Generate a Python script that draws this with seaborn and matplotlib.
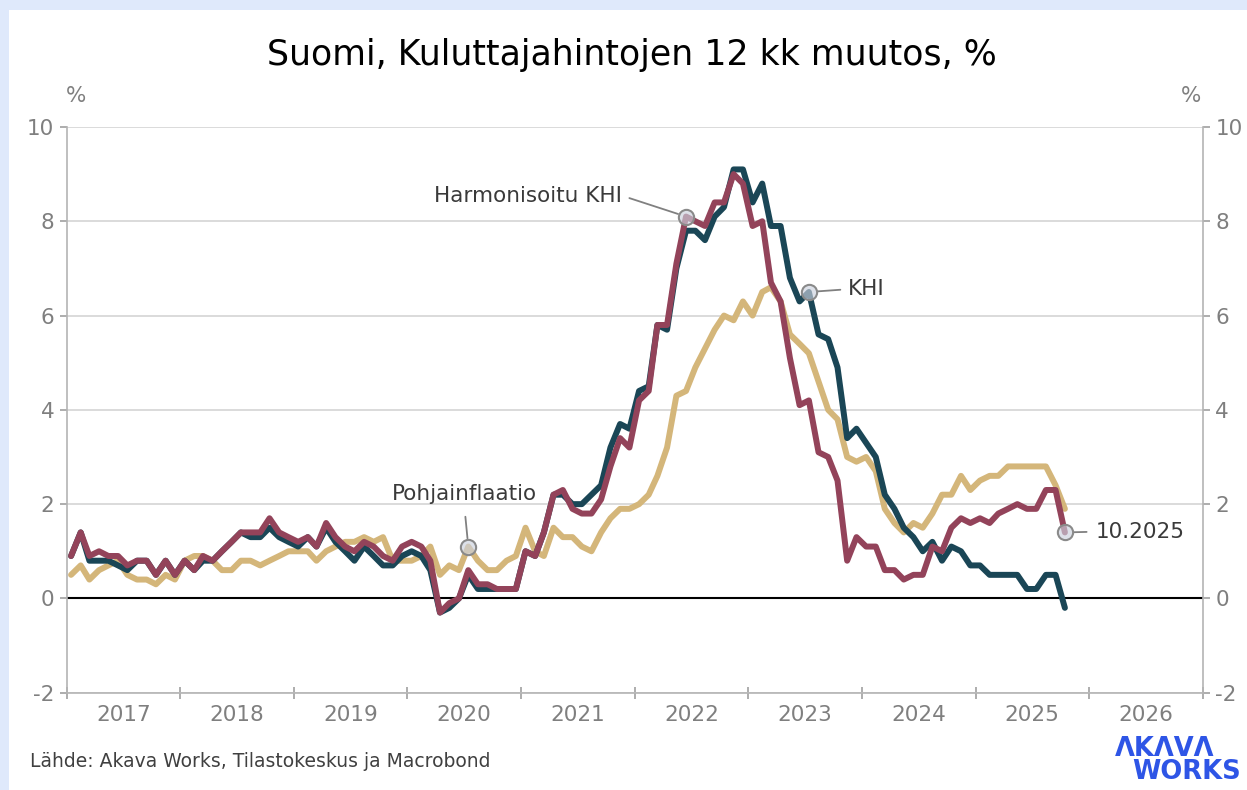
import numpy as np
import pandas as pd
import matplotlib
matplotlib.use('Agg')
import matplotlib.pyplot as plt
import matplotlib.dates as mdates
from matplotlib.patches import Rectangle
import seaborn as sns

# 12 kk muutos, %, kuukausittain 1.2017 - 10.2025
khi = [0.9, 1.4, 0.8, 0.8, 0.8, 0.7, 0.6, 0.8, 0.8, 0.5, 0.8, 0.5,
       0.8, 0.6, 0.8, 0.8, 1.0, 1.2, 1.4, 1.3, 1.3, 1.5, 1.3, 1.2,
       1.1, 1.3, 1.1, 1.5, 1.2, 1.0, 0.8, 1.1, 0.9, 0.7, 0.7, 0.9,
       1.0, 0.9, 0.6, -0.3, -0.2, 0.0, 0.5, 0.2, 0.2, 0.2, 0.2, 0.2,
       1.0, 0.9, 1.4, 2.2, 2.2, 2.0, 2.0, 2.2, 2.4, 3.2, 3.7, 3.6,
       4.4, 4.5, 5.8, 5.7, 7.0, 7.8, 7.8, 7.6, 8.1, 8.3, 9.1, 9.1,
       8.4, 8.8, 7.9, 7.9, 6.8, 6.3, 6.5, 5.6, 5.5, 4.9, 3.4, 3.6,
       3.3, 3.0, 2.2, 1.9, 1.5, 1.3, 1.0, 1.2, 0.8, 1.1, 1.0, 0.7,
       0.7, 0.5, 0.5, 0.5, 0.5, 0.2, 0.2, 0.5, 0.5, -0.2]

hicp = [0.9, 1.4, 0.9, 1.0, 0.9, 0.9, 0.7, 0.8, 0.8, 0.5, 0.8, 0.5,
        0.8, 0.6, 0.9, 0.8, 1.0, 1.2, 1.4, 1.4, 1.4, 1.7, 1.4, 1.3,
        1.2, 1.3, 1.1, 1.6, 1.3, 1.1, 1.0, 1.2, 1.1, 0.9, 0.8, 1.1,
        1.2, 1.1, 0.8, -0.3, -0.1, 0.0, 0.6, 0.3, 0.3, 0.2, 0.2, 0.2,
        1.0, 0.9, 1.4, 2.2, 2.3, 1.9, 1.8, 1.8, 2.1, 2.8, 3.4, 3.2,
        4.2, 4.4, 5.8, 5.8, 7.1, 8.1, 8.0, 7.9, 8.4, 8.4, 9.0, 8.8,
        7.9, 8.0, 6.7, 6.3, 5.1, 4.1, 4.2, 3.1, 3.0, 2.5, 0.8, 1.3,
        1.1, 1.1, 0.6, 0.6, 0.4, 0.5, 0.5, 1.1, 1.0, 1.5, 1.7, 1.6,
        1.7, 1.6, 1.8, 1.9, 2.0, 1.9, 1.9, 2.3, 2.3, 1.4]

core = [0.5, 0.7, 0.4, 0.6, 0.7, 0.8, 0.5, 0.4, 0.4, 0.3, 0.5, 0.4,
        0.8, 0.9, 0.9, 0.8, 0.6, 0.6, 0.8, 0.8, 0.7, 0.8, 0.9, 1.0,
        1.0, 1.0, 0.8, 1.0, 1.1, 1.2, 1.2, 1.3, 1.2, 1.3, 0.8, 0.8,
        0.8, 0.9, 1.1, 0.5, 0.7, 0.6, 1.1, 0.8, 0.6, 0.6, 0.8, 0.9,
        1.5, 1.0, 0.9, 1.5, 1.3, 1.3, 1.1, 1.0, 1.4, 1.7, 1.9, 1.9,
        2.0, 2.2, 2.6, 3.2, 4.3, 4.4, 4.9, 5.3, 5.7, 6.0, 5.9, 6.3,
        6.0, 6.5, 6.6, 6.3, 5.6, 5.4, 5.2, 4.6, 4.0, 3.8, 3.0, 2.9,
        3.0, 2.7, 1.9, 1.6, 1.4, 1.6, 1.5, 1.8, 2.2, 2.2, 2.6, 2.3,
        2.5, 2.6, 2.6, 2.8, 2.8, 2.8, 2.8, 2.8, 2.4, 1.9]

years = list(range(2017, 2027))
y_ticks = [-2, 0, 2, 4, 6, 8, 10]

colors = {'Pohjainflaatio': '#d4b67a', 'KHI': '#1a4656', 'Harmonisoitu KHI': '#93435a'}

months = pd.date_range('2017-01-01', periods=len(khi), freq='MS') + pd.Timedelta(days=14)
df = pd.DataFrame({'kk': months, 'KHI': khi, 'Harmonisoitu KHI': hicp, 'Pohjainflaatio': core})
long_df = df.melt(id_vars='kk', var_name='sarja', value_name='muutos')

sns.set_theme(style='white')
plt.rcParams['font.family'] = ['DejaVu Sans']
plt.rcParams['axes.unicode_minus'] = False

fig = plt.figure(figsize=(12.47, 7.9), dpi=100)
fig.patch.set_facecolor('#dfe9fb')
fig.patches.append(Rectangle((9 / 1247, 0), 1, 780 / 790, transform=fig.transFigure,
                             facecolor='white', edgecolor='none', zorder=-10))

ax = fig.add_axes([66.7 / 1247, 1 - 692.7 / 790, 1136 / 1247, 565.7 / 790])
ax.set_facecolor('white')

sns.lineplot(data=long_df, x='kk', y='muutos', hue='sarja',
             hue_order=['Pohjainflaatio', 'KHI', 'Harmonisoitu KHI'],
             palette=colors, linewidth=4.3, legend=False, ax=ax)

ax.axhline(0, color='black', lw=1.5, zorder=1.5)
ax.set_ylim(-2, 10)
ax.set_xlim(pd.Timestamp('2017-01-01'), pd.Timestamp('2027-01-01'))
ax.set_xlabel('')
ax.set_ylabel('')

ax.set_yticks(y_ticks)
ax.yaxis.grid(True, color='#d4d4d4', lw=1.2, zorder=0)
ax.set_axisbelow(True)

major = pd.to_datetime([f'{y}-01-01' for y in years + [2027]])
minor = pd.to_datetime([f'{y}-07-02' for y in years])
ax.set_xticks(major)
ax.set_xticklabels([''] * len(major))
ax.set_xticks(minor, minor=True)
ax.set_xticklabels([str(y) for y in years], minor=True)

ax.tick_params(axis='x', which='major', direction='inout', length=8, width=1.2,
               color='#a0a0a0', bottom=True)
ax.tick_params(axis='x', which='minor', length=0, pad=9, labelsize=15.5, labelcolor='#7f7f7f')
ax.tick_params(axis='y', direction='out', length=5, width=1.2, color='#a0a0a0',
               left=True, right=True, labelleft=True, labelright=True,
               labelsize=15.5, labelcolor='#7f7f7f', pad=4)

for side in ['left', 'right', 'bottom']:
    ax.spines[side].set_color('#b4b4b4')
    ax.spines[side].set_linewidth(1.2)
ax.spines['top'].set_visible(False)

# merkityt pisteet
marker_kw = dict(marker='o', ms=11, mfc=(0.80, 0.82, 0.87, 0.65), mec='#8a8a8a', mew=1.5,
                 ls='none', zorder=5)
text_kw = dict(fontsize=15.5, color='#3a3a3a', textcoords='offset points')
line_kw = dict(arrowstyle='-', color='#808080', lw=1.3, shrinkB=6)

notes = [
    ('Harmonisoitu KHI', months[65], hicp[65], (-46, 15), 'right', (1, 0.5), 3),
    ('KHI', months[78], khi[78], (28, 2), 'left', (0, 0.5), 3),
    ('Pohjainflaatio', months[42], core[42], (-3, 38), 'center', (0.5, 0), 7),
    ('10.2025', months[105], hicp[105], (22, 0.5), 'left', (0, 0.5), 4),
]
for label, xv, yv, off, ha, rel, sa in notes:
    ax.plot([xv], [yv], **marker_kw)
    ax.annotate(label, xy=(xv, yv), xytext=off, ha=ha, va='center',
                arrowprops=dict(relpos=rel, shrinkA=sa, **line_kw), **text_kw)

fig.text(0.507, 1 - 65 / 790, 'Suomi, Kuluttajahintojen 12 kk muutos, %', ha='center',
         va='baseline', fontsize=25, color='black')
fig.text(76.5 / 1247, 1 - 102 / 790, '%', ha='center', va='baseline', fontsize=15.5, color='#7f7f7f')
fig.text(1191 / 1247, 1 - 102 / 790, '%', ha='center', va='baseline', fontsize=15.5, color='#7f7f7f')
fig.text(30 / 1247, 1 - 766.7 / 790, 'Lähde: Akava Works, Tilastokeskus ja Macrobond',
         ha='left', va='baseline', fontsize=13.5, color='#404040')
fig.text(1165 / 1247, 1 - 756 / 790, 'ΛKΛVΛ', ha='center', va='baseline', fontsize=18.5,
         fontweight='bold', color='#2e55e6')
fig.text(1187 / 1247, 1 - 779 / 790, 'WORKS', ha='center', va='baseline', fontsize=18.5,
         fontweight='bold', color='#2e55e6')

fig.savefig('out.png', dpi=100, facecolor=fig.get_facecolor())
